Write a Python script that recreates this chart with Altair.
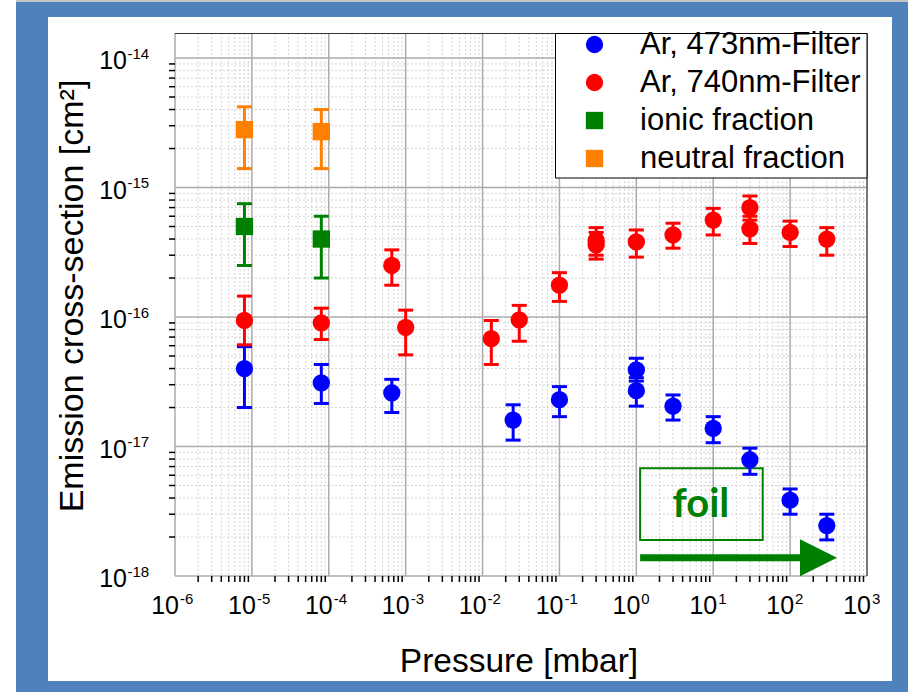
import altair as alt
import pandas as pd

# ---------------- data ----------------
series_names = ["Ar, 473nm-Filter", "Ar, 740nm-Filter", "ionic fraction", "neutral fraction"]
series_colors = ["#0000FF", "#FF0000", "#008000", "#FF8000"]
series_shapes = ["circle", "circle", "square", "square"]
series_sizes = [300, 300, 225, 225]

blue_p = [8e-6, 8e-5, 6.6e-4, 2.5e-2, 0.1, 1.0, 1.0, 3.0, 10, 30, 100, 300]
blue_y = [4.0e-17, 3.1e-17, 2.6e-17, 1.6e-17, 2.3e-17, 3.9e-17, 2.7e-17, 2.05e-17, 1.38e-17, 7.9e-18, 3.85e-18, 2.45e-18]
blue_lo = [2.0e-17, 2.15e-17, 1.83e-17, 1.12e-17, 1.7e-17, 3.2e-17, 2.05e-17, 1.6e-17, 1.07e-17, 6.1e-18, 3.0e-18, 1.9e-18]
blue_hi = [5.9e-17, 4.3e-17, 3.3e-17, 2.1e-17, 2.9e-17, 4.8e-17, 3.4e-17, 2.5e-17, 1.7e-17, 9.7e-18, 4.7e-18, 3.0e-18]

red_p = [8e-6, 8e-5, 6.6e-4, 1e-3, 1.3e-2, 3e-2, 0.1, 0.3, 0.3, 1, 3, 10, 30, 30, 100, 300]
red_y = [9.4e-17, 9.0e-17, 2.5e-16, 8.3e-17, 6.8e-17, 9.5e-17, 1.76e-16, 3.9e-16, 3.6e-16, 3.8e-16, 4.3e-16, 5.6e-16, 7.0e-16, 4.8e-16, 4.5e-16, 4.0e-16]
red_lo = [6.1e-17, 6.7e-17, 1.76e-16, 5.1e-17, 4.3e-17, 6.5e-17, 1.32e-16, 3.0e-16, 2.8e-16, 2.9e-16, 3.4e-16, 4.3e-16, 5.6e-16, 3.7e-16, 3.5e-16, 3.0e-16]
red_hi = [1.45e-16, 1.17e-16, 3.3e-16, 1.13e-16, 9.4e-17, 1.23e-16, 2.2e-16, 4.9e-16, 4.5e-16, 4.7e-16, 5.3e-16, 6.9e-16, 8.6e-16, 6.0e-16, 5.5e-16, 4.9e-16]

ionic_p = [8e-6, 8e-5]
ionic_y = [5.0e-16, 4.0e-16]
ionic_lo = [2.5e-16, 2.0e-16]
ionic_hi = [7.5e-16, 6.0e-16]

neutral_p = [8e-6, 8e-5]
neutral_y = [2.8e-15, 2.7e-15]
neutral_lo = [1.4e-15, 1.4e-15]
neutral_hi = [4.2e-15, 4.0e-15]

x_exponents = [-6, -5, -4, -3, -2, -1, 0, 1, 2, 3]
y_exponents = [-18, -17, -16, -15, -14]

# annotation (data units)
foil_box_x = [1.12, 44.0]
foil_box_y = [1.9e-18, 6.8e-18]
foil_text_pos = [6.9, 3.55e-18]
arrow_x = [1.12, 185.0]
arrow_y = [1.385e-18]
arrow_head_x = [234.0]

x_title = "Pressure [mbar]"
y_title = "Emission cross-section [cm²]"

# ---------------- tables ----------------
rows = []
for name, P, Y, LO, HI in [
    (series_names[0], blue_p, blue_y, blue_lo, blue_hi),
    (series_names[1], red_p, red_y, red_lo, red_hi),
    (series_names[2], ionic_p, ionic_y, ionic_lo, ionic_hi),
    (series_names[3], neutral_p, neutral_y, neutral_lo, neutral_hi),
]:
    for p, y, lo, hi in zip(P, Y, LO, HI):
        rows.append({"series": name, "p": p, "y": y, "lo": lo, "hi": hi})
df = pd.DataFrame(rows)

major_x = [10.0 ** e for e in x_exponents]
minor_x = [m * 10.0 ** e for e in x_exponents[:-1] for m in range(2, 10)]
major_y = [10.0 ** e for e in y_exponents]
minor_y = [m * 10.0 ** e for e in y_exponents[:-1] for m in range(2, 10)]
df_mx = pd.DataFrame({"v": major_x})
df_nx = pd.DataFrame({"v": minor_x})
df_my = pd.DataFrame({"v": major_y})
df_ny = pd.DataFrame({"v": minor_y})
df_xl = pd.DataFrame({"v": major_x, "base": ["10"] * len(x_exponents), "exp": [str(e) for e in x_exponents]})
df_yl = pd.DataFrame({"v": major_y, "base": ["10"] * len(y_exponents), "exp": [str(e) for e in y_exponents]})
one = pd.DataFrame({"a": [0]})

W, H = 692, 543
xscale = alt.Scale(type="log", domain=[1e-6, 1e3], nice=False)
yscale = alt.Scale(type="log", domain=[1e-18, 1.56e-14], nice=False)
FONT = "Liberation Sans"

color_scale = alt.Scale(domain=series_names, range=series_colors)
shape_scale = alt.Scale(domain=series_names, range=series_shapes)
size_scale = alt.Scale(domain=series_names, range=series_sizes)

legend = alt.Legend(
    orient="none", legendX=380, legendY=-4, title=None,
    labelFont=FONT, labelFontSize=31, labelColor="black", labelLimit=400,
    symbolSize=300, symbolStrokeWidth=0, padding=0, rowPadding=6,
    labelOffset=30, symbolOffset=24,
    zindex=5,
)

def X(field="v"):
    return alt.X(f"{field}:Q", scale=xscale, axis=None)

def Y(field="v"):
    return alt.Y(f"{field}:Q", scale=yscale, axis=None)

# ---------------- background ----------------
left_white = alt.Chart(one).mark_rect(color="white").encode(
    x=alt.value(-175), x2=alt.value(-159), y=alt.value(-33), y2=alt.value(H + 116))
top_gray = alt.Chart(one).mark_rect(color="#c4c4c4").encode(
    x=alt.value(-159), x2=alt.value(W + 41), y=alt.value(-33), y2=alt.value(-31))
panel = alt.Chart(one).mark_rect(color="white").encode(
    x=alt.value(-127), x2=alt.value(717), y=alt.value(-16), y2=alt.value(648))

# ---------------- grid ----------------
grid_nx = alt.Chart(df_nx).mark_rule(color="#d4d4d4", strokeWidth=1, strokeDash=[2, 2]).encode(
    x=X(), y=alt.value(0), y2=alt.value(H))
grid_ny = alt.Chart(df_ny).mark_rule(color="#d4d4d4", strokeWidth=1, strokeDash=[2, 2]).encode(
    y=Y(), x=alt.value(0), x2=alt.value(W))
grid_mx = alt.Chart(df_mx).mark_rule(color="#ababab", strokeWidth=1.5).encode(
    x=X(), y=alt.value(0), y2=alt.value(H))
grid_my = alt.Chart(df_my).mark_rule(color="#ababab", strokeWidth=1.5).encode(
    y=Y(), x=alt.value(0), x2=alt.value(W))

tick_nx = alt.Chart(df_nx).mark_rule(color="black", strokeWidth=1.5).encode(
    x=X(), y=alt.value(H), y2=alt.value(H + 6))
tick_ny = alt.Chart(df_ny).mark_rule(color="black", strokeWidth=1.5).encode(
    y=Y(), x=alt.value(-6), x2=alt.value(0))
frame_top = alt.Chart(one).mark_rule(color="#333333", strokeWidth=1).encode(
    x=alt.value(0), x2=alt.value(W), y=alt.value(0.5))
frame_right = alt.Chart(one).mark_rule(color="#333333", strokeWidth=1).encode(
    x=alt.value(W), y=alt.value(0), y2=alt.value(H))
legend_box = alt.Chart(one).mark_rect(fill="white", stroke="black", strokeWidth=1).encode(
    x=alt.value(380.5), x2=alt.value(W), y=alt.value(0.5), y2=alt.value(145))

# ---------------- annotation ----------------
df_box = pd.DataFrame({"x0": [foil_box_x[0]], "x1": [foil_box_x[1]], "y0": [foil_box_y[0]], "y1": [foil_box_y[1]]})
foil_box = alt.Chart(df_box).mark_rect(fill="white", fillOpacity=0, stroke="#008000", strokeWidth=2).encode(
    x=X("x0"), x2="x1", y=Y("y0"), y2="y1")
df_ft = pd.DataFrame({"x": [foil_text_pos[0]], "y": [foil_text_pos[1]], "t": ["foil"]})
foil_text = alt.Chart(df_ft).mark_text(font="Lato", fontWeight="bold", fontSize=40, color="#008000",
                                       baseline="middle", align="center").encode(
    x=X("x"), y=Y("y"), text="t:N")
df_ar = pd.DataFrame({"x0": [arrow_x[0]], "x1": [arrow_x[1]], "y": arrow_y})
arrow_shaft = alt.Chart(df_ar).mark_rule(color="#008000", strokeWidth=7).encode(
    x=X("x0"), x2="x1", y=Y("y"))
df_ah = pd.DataFrame({"x": arrow_head_x, "y": arrow_y})
arrow_head = alt.Chart(df_ah).mark_point(shape="M-1,-1L1,0L-1,1Z", size=1369, filled=True,
                                         color="#008000", opacity=1, strokeWidth=0).encode(
    x=X("x"), y=Y("y"))

# ---------------- data marks ----------------
col = alt.Color("series:N", scale=color_scale, legend=legend)
err_rule = alt.Chart(df).mark_rule(strokeWidth=3).encode(
    x=X("p"), y=Y("lo"), y2="hi", color=col)
cap_hi = alt.Chart(df).mark_tick(orient="horizontal", size=15, thickness=3, opacity=1).encode(
    x=X("p"), y=Y("hi"), color=col)
cap_lo = alt.Chart(df).mark_tick(orient="horizontal", size=15, thickness=3, opacity=1).encode(
    x=X("p"), y=Y("lo"), color=col)
points = alt.Chart(df).mark_point(filled=True, opacity=1, strokeWidth=0).encode(
    x=alt.X("p:Q", scale=xscale, axis=alt.Axis(values=major_x, tickSize=10, tickWidth=1.5, tickColor="black",
                                                domainColor="black", domainWidth=2, labels=False, grid=False,
                                                title=None, zindex=1)),
    y=alt.Y("y:Q", scale=yscale, axis=alt.Axis(values=major_y, tickSize=11, tickWidth=1.5, tickColor="black",
                                                domainColor="black", domainWidth=2, labels=False, grid=False,
                                                title=None, zindex=1)),
    color=col,
    shape=alt.Shape("series:N", scale=shape_scale, legend=legend),
    size=alt.Size("series:N", scale=size_scale, legend=None),
)

# ---------------- labels ----------------
xl_base = alt.Chart(df_xl).mark_text(align="right", baseline="alphabetic", dx=4, font=FONT, fontSize=25,
                                     color="black").encode(x=X(), y=alt.value(581), text="base:N")
xl_exp = alt.Chart(df_xl).mark_text(align="left", baseline="alphabetic", dx=5, font=FONT, fontSize=15,
                                    color="black").encode(x=X(), y=alt.value(571), text="exp:N")
yl_base = alt.Chart(df_yl).mark_text(align="right", baseline="alphabetic", dy=11, font=FONT, fontSize=25,
                                     color="black").encode(y=Y(), x=alt.value(-48), text="base:N")
yl_exp = alt.Chart(df_yl).mark_text(align="left", baseline="alphabetic", dy=0.5, font=FONT, fontSize=15,
                                    color="black").encode(y=Y(), x=alt.value(-47.5), text="exp:N")
df_xt = pd.DataFrame({"t": [x_title]})
df_yt = pd.DataFrame({"t": [y_title]})
xt = alt.Chart(df_xt).mark_text(align="center", baseline="alphabetic", font=FONT, fontSize=33.5,
                                color="black").encode(x=alt.value(W / 2 - 2), y=alt.value(638.5), text="t:N")
yt = alt.Chart(df_yt).mark_text(align="center", baseline="alphabetic", angle=270, font=FONT, fontSize=34,
                                color="black").encode(x=alt.value(-92), y=alt.value(263), text="t:N")

chart = alt.layer(
    left_white, top_gray, panel,
    grid_nx, grid_ny, grid_mx, grid_my,
    tick_nx, tick_ny, frame_top, frame_right, legend_box,
    foil_box, foil_text, arrow_shaft, arrow_head,
    err_rule, cap_hi, cap_lo, points,
    xl_base, xl_exp, yl_base, yl_exp, xt, yt,
).properties(
    width=W, height=H,
    padding={"left": 175, "top": 33, "right": 41, "bottom": 116},
    autosize=alt.AutoSizeParams(type="none"),
).configure(background="#4F81BD").configure_view(stroke=None)

chart.save("out.html", embed_options={"renderer": "svg", "actions": False})
